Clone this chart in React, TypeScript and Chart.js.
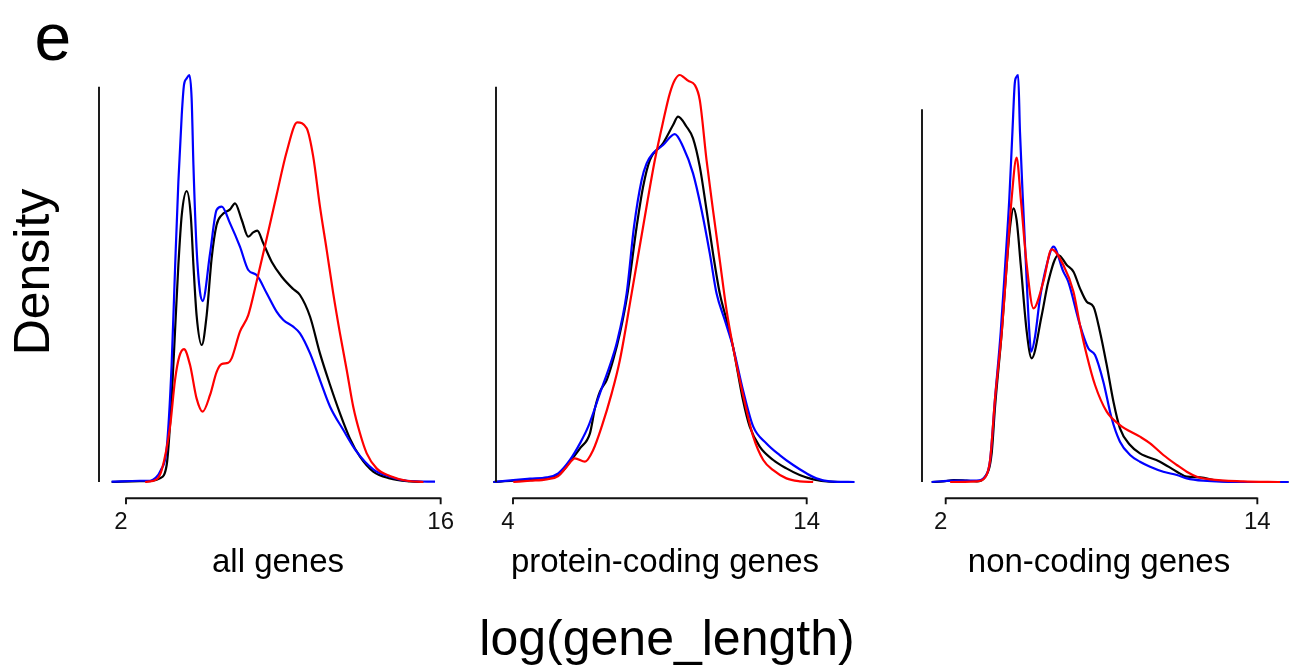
import React, { useEffect, useRef } from "react";
import { Chart, registerables } from "chart.js";

Chart.register(...registerables);

// ---------- all genes ----------
const allBlackX = [1.36, 2.62, 3.07, 3.51, 3.81, 4.03, 4.18, 4.33, 4.48, 4.70, 4.88, 5.00, 5.14, 5.37, 5.59, 5.81, 6.03, 6.26, 6.63, 6.85, 7.15, 7.44, 7.66, 7.84, 8.11, 8.48, 8.93, 9.44, 9.74, 10.19, 10.63, 11.08, 11.52, 11.96, 12.41, 13.00, 13.74, 14.63, 15.23];
const allBlackY = [0, 0.001, 0.001, 0.0037, 0.0172, 0.0847, 0.152, 0.2196, 0.2702, 0.2945, 0.2702, 0.2196, 0.169, 0.1387, 0.169, 0.2264, 0.2601, 0.2702, 0.276, 0.2821, 0.2652, 0.2483, 0.2527, 0.2544, 0.2416, 0.223, 0.2078, 0.1953, 0.1893, 0.1673, 0.1302, 0.0982, 0.0695, 0.0442, 0.0256, 0.0105, 0.0037, 0.0007, 0];
const allBlueX = [1.36, 2.62, 3.07, 3.29, 3.55, 3.81, 4.03, 4.18, 4.33, 4.48, 4.58, 4.70, 4.82, 4.92, 5.00, 5.14, 5.29, 5.41, 5.74, 6.03, 6.26, 6.63, 7.07, 7.44, 7.81, 8.26, 8.70, 9.00, 9.44, 9.74, 10.19, 10.63, 11.08, 11.67, 12.26, 13.00, 13.74, 14.49, 15.75];
const allBlueY = [0.0003, 0.0013, 0.0013, 0.0037, 0.012, 0.0341, 0.1184, 0.2146, 0.304, 0.3715, 0.4019, 0.4085, 0.412, 0.3883, 0.3209, 0.2365, 0.1926, 0.1832, 0.2314, 0.2753, 0.2787, 0.2618, 0.2382, 0.2146, 0.2095, 0.191, 0.1724, 0.164, 0.1572, 0.1505, 0.1302, 0.1032, 0.0762, 0.0526, 0.0307, 0.0128, 0.0054, 0.0013, 0.0003];
const allRedX = [2.85, 3.36, 3.59, 3.96, 4.18, 4.37, 4.58, 4.85, 5.14, 5.41, 5.74, 6.03, 6.26, 6.55, 6.70, 7.07, 7.44, 7.81, 8.26, 8.70, 9.15, 9.62, 10.04, 10.33, 10.63, 10.93, 11.22, 11.52, 11.82, 12.11, 12.41, 12.71, 13.15, 13.74, 14.49, 15.23];
const allRedY = [0, 0.0027, 0.0121, 0.056, 0.1032, 0.1269, 0.1346, 0.1184, 0.0847, 0.0712, 0.0881, 0.1113, 0.1194, 0.1208, 0.1252, 0.1522, 0.169, 0.2028, 0.2466, 0.2905, 0.3343, 0.364, 0.358, 0.3293, 0.2787, 0.2348, 0.191, 0.1505, 0.1134, 0.0762, 0.0493, 0.029, 0.0138, 0.0061, 0.0013, 0];
const allTicks = [2, 16];

// ---------- protein-coding genes ----------
const pcBlackX = [3.33, 4.01, 4.58, 5.15, 5.60, 5.94, 6.28, 6.62, 6.79, 6.96, 7.19, 7.41, 7.64, 7.90, 8.21, 8.43, 8.66, 9.11, 9.45, 9.62, 9.91, 10.13, 10.36, 10.59, 10.81, 11.04, 11.27, 11.49, 11.83, 12.06, 12.40, 12.86, 13.31, 13.76, 14.22, 14.78, 15.29];
const pcBlackY = [0, 0.0013, 0.002, 0.0034, 0.0081, 0.0206, 0.0341, 0.0493, 0.0746, 0.0914, 0.1032, 0.1235, 0.1505, 0.191, 0.2584, 0.2989, 0.3259, 0.3428, 0.3613, 0.3698, 0.3596, 0.3478, 0.3192, 0.2753, 0.2314, 0.191, 0.164, 0.137, 0.083, 0.056, 0.0358, 0.0223, 0.0138, 0.0071, 0.0027, 0.0003, 0];
const pcBlueX = [3.33, 4.01, 4.58, 5.15, 5.54, 5.94, 6.28, 6.56, 6.96, 7.36, 7.53, 7.87, 8.12, 8.38, 8.55, 8.77, 9.11, 9.51, 9.79, 10.13, 10.42, 10.70, 10.93, 11.21, 11.49, 11.83, 12.18, 12.63, 13.08, 13.54, 13.99, 14.33, 14.78, 15.63];
const pcBlueY = [0, 0.002, 0.0034, 0.0047, 0.0088, 0.0223, 0.0391, 0.056, 0.0897, 0.1235, 0.1404, 0.191, 0.2584, 0.3057, 0.3225, 0.3327, 0.3411, 0.3522, 0.3394, 0.3124, 0.2753, 0.2314, 0.191, 0.164, 0.137, 0.0931, 0.056, 0.0391, 0.0273, 0.0172, 0.0088, 0.0037, 0.0007, 0];
const pcRedX = [4.01, 4.58, 5.15, 5.54, 5.83, 6.11, 6.45, 6.73, 7.02, 7.36, 7.64, 8.04, 8.43, 8.83, 9.11, 9.34, 9.51, 9.68, 9.82, 9.96, 10.19, 10.36, 10.59, 10.81, 11.04, 11.27, 11.49, 11.72, 11.95, 12.18, 12.52, 12.86, 13.31, 13.76, 14.22];
const pcRedY = [0, 0.0013, 0.0027, 0.0061, 0.0155, 0.024, 0.0206, 0.0324, 0.056, 0.0897, 0.1235, 0.191, 0.2584, 0.3259, 0.3647, 0.3934, 0.4069, 0.412, 0.4096, 0.4062, 0.4018, 0.3866, 0.3259, 0.2753, 0.2247, 0.1741, 0.137, 0.1032, 0.0729, 0.0459, 0.0223, 0.0121, 0.0037, 0.0007, 0];
const pcTicks = [4, 14];

// ---------- non-coding genes ----------
const ncBlackX = [1.46, 1.91, 2.30, 2.81, 3.19, 3.52, 3.77, 3.90, 4.16, 4.35, 4.48, 4.61, 4.73, 4.89, 5.12, 5.31, 5.70, 5.95, 6.34, 6.66, 6.92, 7.17, 7.43, 7.69, 7.94, 8.20, 8.46, 8.71, 9.10, 9.48, 10.25, 10.90, 11.28, 11.80, 12.44, 13.46, 15.20];
const ncBlackY = [0, 0.0011, 0.0032, 0.0021, 0.0011, 0.0086, 0.0461, 0.1212, 0.242, 0.3493, 0.411, 0.4405, 0.4217, 0.3493, 0.242, 0.199, 0.2688, 0.3224, 0.3653, 0.3493, 0.3385, 0.3117, 0.2902, 0.2822, 0.242, 0.1883, 0.1293, 0.0864, 0.0595, 0.0461, 0.0327, 0.0166, 0.0086, 0.0075, 0.0021, 0, 0];
const ncBlueX = [1.46, 2.30, 3.19, 3.52, 3.71, 3.90, 4.12, 4.29, 4.45, 4.57, 4.66, 4.73, 4.79, 4.86, 4.97, 5.09, 5.22, 5.29, 5.44, 5.63, 5.89, 6.15, 6.53, 6.72, 7.17, 7.49, 7.75, 8.07, 8.39, 8.71, 9.10, 9.48, 9.87, 10.38, 10.90, 11.28, 11.92, 13.46, 15.20];
const ncBlueY = [0, 0.0021, 0.0021, 0.0086, 0.0354, 0.1347, 0.242, 0.3493, 0.4565, 0.5638, 0.6416, 0.6524, 0.655, 0.5638, 0.4565, 0.3493, 0.242, 0.2098, 0.2339, 0.2956, 0.3493, 0.3788, 0.3385, 0.3224, 0.2527, 0.2151, 0.2044, 0.1615, 0.1025, 0.0649, 0.0435, 0.0327, 0.0247, 0.0166, 0.0113, 0.0059, 0.0021, 0, 0];
const ncRedX = [2.17, 3.19, 3.52, 3.71, 3.90, 4.16, 4.35, 4.54, 4.73, 4.89, 5.12, 5.38, 5.76, 6.08, 6.53, 6.92, 7.17, 7.43, 7.75, 8.20, 8.71, 9.48, 9.87, 10.38, 10.90, 11.28, 11.67, 12.18, 13.46, 14.88];
const ncRedY = [0, 0.0011, 0.0075, 0.0354, 0.1347, 0.242, 0.3493, 0.4565, 0.522, 0.4565, 0.3493, 0.2795, 0.3224, 0.3745, 0.3493, 0.3063, 0.2527, 0.2044, 0.1561, 0.1132, 0.0917, 0.073, 0.0622, 0.0435, 0.0274, 0.0166, 0.0086, 0.0043, 0.0011, 0];
const ncTicks = [2, 14];

const panelLabels = ["all genes", "protein-coding genes", "non-coding genes"];
const yAxisTops = [0.4, 0.4, 0.6];
const yPeaks = [0.412, 0.412, 0.655];

const FONT = '"Liberation Sans", Arial, Helvetica, sans-serif';
const RED = "#ff0000";
const BLUE = "#0000ff";
const BLACK = "#000000";

type Series = { color: string; x: number[]; y: number[] };
type Panel = {
  label: string;
  ticks: number[];
  xMin: number;
  xMax: number;
  yPeak: number;
  yAxisTop: number;
  series: Series[];
  canvasLeft: number;
  canvasWidth: number;
  chartLeft: number;
  chartRight: number;
  labelCenter: number;
};

const CANVAS_H = 545;
const CHART_TOP = 58.7;
const CHART_BOTTOM = 498.3;

const panels: Panel[] = [
  {
    label: panelLabels[0], ticks: allTicks, xMin: 0.7987, xMax: 16.282,
    yPeak: yPeaks[0], yAxisTop: yAxisTops[0],
    series: [
      { color: RED, x: allRedX, y: allRedY },
      { color: BLUE, x: allBlueX, y: allBlueY },
      { color: BLACK, x: allBlackX, y: allBlackY },
    ],
    canvasLeft: 80, canvasWidth: 400, chartLeft: 99, chartRight: 447, labelCenter: 278,
  },
  {
    label: panelLabels[1], ticks: pcTicks, xMin: 3.4212, xMax: 15.883,
    yPeak: yPeaks[1], yAxisTop: yAxisTops[1],
    series: [
      { color: RED, x: pcRedX, y: pcRedY },
      { color: BLUE, x: pcBlueX, y: pcBlueY },
      { color: BLACK, x: pcBlackX, y: pcBlackY },
    ],
    canvasLeft: 470, canvasWidth: 410, chartLeft: 496, chartRight: 862, labelCenter: 665,
  },
  {
    label: panelLabels[2], ticks: ncTicks, xMin: 1.0874, xMax: 15.258,
    yPeak: yPeaks[2], yAxisTop: yAxisTops[2],
    series: [
      { color: RED, x: ncRedX, y: ncRedY },
      { color: BLUE, x: ncBlueX, y: ncBlueY },
      { color: BLACK, x: ncBlackX, y: ncBlackY },
    ],
    canvasLeft: 900, canvasWidth: 390, chartLeft: 922, chartRight: 1290, labelCenter: 1099,
  },
];

function makeAxesPlugin(ticks: number[], yTop: number) {
  return {
    id: "bracketAxes",
    afterDraw(chart: any) {
      const { ctx, chartArea, scales } = chart;
      const xs = scales.x;
      const ys = scales.y;
      ctx.save();
      ctx.strokeStyle = "#111111";
      ctx.lineWidth = 1.9;
      ctx.lineCap = "butt";
      // y axis line from 0 to top value
      const y0 = ys.getPixelForValue(0);
      const y1 = ys.getPixelForValue(yTop);
      ctx.beginPath();
      ctx.moveTo(chartArea.left, y0);
      ctx.lineTo(chartArea.left, y1);
      ctx.stroke();
      // x axis bracket from first to last tick
      const b = chartArea.bottom;
      const px = ticks.map((t) => xs.getPixelForValue(t));
      ctx.beginPath();
      ctx.moveTo(px[0], b);
      ctx.lineTo(px[px.length - 1], b);
      px.forEach((p) => {
        ctx.moveTo(p, b - 0.9);
        ctx.lineTo(p, b + 6);
      });
      ctx.stroke();
      ctx.fillStyle = "#111";
      ctx.font = `24px ${FONT}`;
      ctx.textAlign = "center";
      ctx.textBaseline = "alphabetic";
      ticks.forEach((t, i) => {
        const label = String(t);
        const shift = label.length === 1 ? -5 : 0;
        ctx.fillText(label, px[i] + shift, b + 31);
      });
      ctx.restore();
    },
  };
}

function DensityPanel({ panel }: { panel: Panel }) {
  const ref = useRef<HTMLCanvasElement | null>(null);
  useEffect(() => {
    const canvas = ref.current;
    if (!canvas) return;
    const chart = new Chart(canvas, {
      type: "line",
      data: {
        datasets: panel.series.map((s) => ({
          data: s.x.map((x, i) => ({ x, y: s.y[i] })),
          borderColor: s.color,
          backgroundColor: s.color,
          borderWidth: 2.2,
          pointRadius: 0,
          pointHoverRadius: 0,
          fill: false,
          cubicInterpolationMode: "monotone" as const,
          clip: false as any,
        })),
      },
      options: {
        responsive: false,
        maintainAspectRatio: false,
        animation: false,
        events: [],
        layout: {
          padding: {
            left: panel.chartLeft - panel.canvasLeft,
            right: panel.canvasLeft + panel.canvasWidth - panel.chartRight,
            top: CHART_TOP,
            bottom: CANVAS_H - CHART_BOTTOM,
          },
        },
        plugins: {
          legend: { display: false },
          tooltip: { enabled: false },
          title: { display: false },
        },
        scales: {
          x: { type: "linear", display: false, min: panel.xMin, max: panel.xMax },
          y: { type: "linear", display: false, min: -0.04 * panel.yPeak, max: 1.04 * panel.yPeak },
        },
      },
      plugins: [makeAxesPlugin(panel.ticks, panel.yAxisTop)],
    });
    return () => chart.destroy();
  }, [panel]);
  return (
    <canvas
      ref={ref}
      width={panel.canvasWidth}
      height={CANVAS_H}
      style={{ position: "absolute", left: panel.canvasLeft, top: 0, width: panel.canvasWidth, height: CANVAS_H }}
    />
  );
}

export default function App() {
  const text: React.CSSProperties = {
    position: "absolute",
    fontFamily: FONT,
    color: "#000",
    whiteSpace: "nowrap",
    margin: 0,
  };
  return (
    <div
      style={{
        position: "absolute",
        left: 0,
        top: 0,
        width: 1290,
        height: 670,
        overflow: "hidden",
        background: "#ffffff",
      }}
    >
      {panels.map((p, i) => (
        <DensityPanel key={i} panel={p} />
      ))}
      <div style={{ ...text, left: 34.5, top: 4, fontSize: 66, lineHeight: "66px" }}>e</div>
      <div
        style={{
          ...text,
          left: 32,
          top: 272,
          fontSize: 50,
          lineHeight: "50px",
          transform: "translate(-50%, -50%) rotate(-90deg)",
        }}
      >
        Density
      </div>
      {panels.map((p, i) => (
        <div
          key={"l" + i}
          style={{ ...text, left: p.labelCenter, top: 544, fontSize: 33, lineHeight: "33px", transform: "translateX(-50%)" }}
        >
          {p.label}
        </div>
      ))}
      <div style={{ ...text, left: 667, top: 612.7, fontSize: 50, lineHeight: "50px", transform: "translateX(-50%)" }}>
        log(gene_length)
      </div>
    </div>
  );
}
